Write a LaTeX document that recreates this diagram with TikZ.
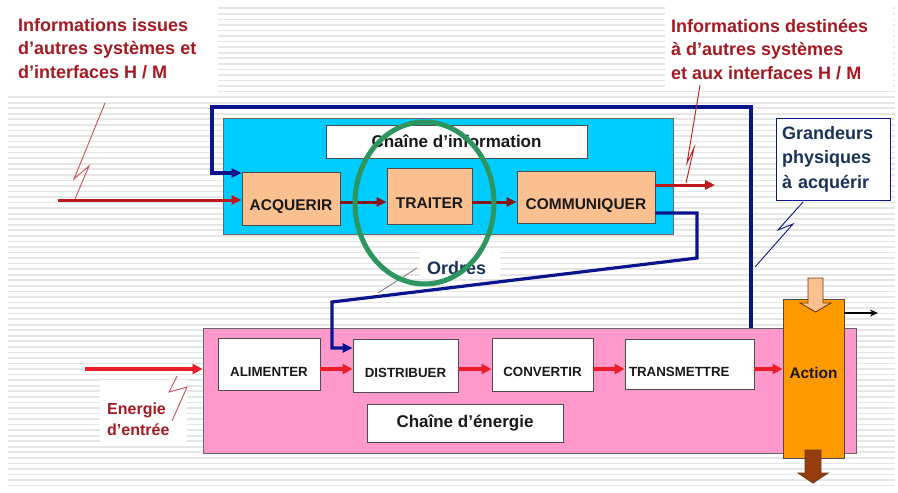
\documentclass[tikz,border=0pt]{standalone}
\usepackage{fontspec}
\setmainfont{Liberation Sans}
\usetikzlibrary{calc,arrows.meta}
\definecolor{cPeach}{RGB}{250,192,143}
\definecolor{cCyan}{RGB}{0,204,255}
\definecolor{cPink}{RGB}{255,153,204}
\definecolor{cOrange}{RGB}{255,153,0}
\definecolor{cNavy}{RGB}{10,20,140}
\definecolor{cNavyText}{RGB}{25,50,90}
\definecolor{cLblRed}{RGB}{165,25,35}
\definecolor{cRedA}{RGB}{190,25,30}
\definecolor{cMaroon}{RGB}{140,20,25}
\definecolor{cRedB}{RGB}{235,30,40}
\definecolor{cLightRed}{RGB}{200,80,90}
\definecolor{cGreen}{RGB}{45,150,95}
\definecolor{cStripe}{RGB}{230,230,230}
\definecolor{cBrown}{RGB}{150,60,15}
\definecolor{cBrownLine}{RGB}{110,60,20}
\begin{document}
\begin{tikzpicture}[x=1pt,y=-1pt,
  pbox/.style={draw=black!70, line width=0.9pt, inner sep=0pt, text height=24pt, text depth=0pt, text=black!90},
  upper/.style={pbox, fill=cPeach, font=\bfseries\fontsize{15.5}{18}\selectfont},
  lower/.style={pbox, fill=white, font=\bfseries\fontsize{13.3}{16}\selectfont},
  wbox/.style={draw=black!70, line width=0.9pt, fill=white, inner sep=0pt, text=black!90, font=\bfseries\fontsize{17}{20}\selectfont},
  lbl/.style={inner sep=0pt, align=left, text=cLblRed, font=\bfseries\fontsize{18}{23.5}\selectfont},
  redA/.style={draw=cRedA, line width=3pt, -{Triangle[length=10pt,width=9pt]}},
  maroonar/.style={draw=cMaroon, line width=3pt, -{Triangle[length=10pt,width=9pt]}},
  redB/.style={draw=cRedB, line width=3.5pt, -{Triangle[length=10pt,width=10pt]}},
  navyar/.style={draw=cNavy, line width=3.2pt, -{Triangle[length=10pt,width=9pt]}},
  bolt/.style={line width=0.9pt}]
\fill[white] (0,0) rectangle (898,493);
\useasboundingbox (0,0) rectangle (898,493);
% stripes
\foreach \k in {0,...,86} {
  \draw[cStripe, line width=1.7pt] (8,{8.3+5.55*\k}) -- (895,{8.3+5.55*\k});
}
% white label areas
\fill[white] (8,0) rectangle (218,92);
\fill[white] (665,0) rectangle (893,90);
\fill[white] (420,252) rectangle (500,278);
\fill[white] (100,380) rectangle (187,443);

% information chain
\node[draw=black!60, line width=0.9pt, fill=cCyan, minimum width=450pt, minimum height=116pt, inner sep=0pt] (info) at (448,176) {};
\node[wbox, minimum width=261pt, minimum height=33pt] (ti) at (456.5,141.5) {Chaîne d’information};
\node[upper, minimum width=98pt, minimum height=53pt] (acq) at (291,198.5) {ACQUERIR};
\node[upper, minimum width=85pt, minimum height=56pt] (tra) at (429.5,196) {TRAITER};
\node[upper, minimum width=138pt, minimum height=52pt] (com) at (586,197) {COMMUNIQUER};

% energy chain
\node[draw=black!60, line width=0.9pt, fill=cPink, minimum width=653pt, minimum height=125pt, inner sep=0pt] (pink) at (529.5,390.5) {};
\node[lower, minimum width=102pt, minimum height=52pt] (ali) at (269,364) {ALIMENTER};
\node[lower, minimum width=105pt, minimum height=53pt] (dis) at (405.5,365.5) {DISTRIBUER};
\node[wbox, minimum width=196pt, minimum height=38pt] (ce) at (465,423) {Chaîne d’énergie};
\node[lower, minimum width=101pt, minimum height=53pt] (con) at (542.5,364.5) {CONVERTIR};
\node[lower, minimum width=129pt, minimum height=50pt, text width=121pt, align=left] (trm) at (689.5,364) {TRANSMETTRE};
\node[draw=black!70, line width=0.9pt, fill=cOrange, minimum width=61pt, minimum height=159pt, inner sep=0pt, text height=11pt, text depth=11pt, text=black!90, font=\bfseries\fontsize{15.4}{18}\selectfont] (act) at (813.5,378.5) {Action};

% grandeurs box
\node[draw=cNavy, line width=0.9pt, fill=white, minimum width=114pt, minimum height=82pt, text width=102pt, align=left, inner sep=0pt, text=cNavyText, font=\bfseries\fontsize{18}{24.5}\selectfont] (gr) at (833,159) {Grandeurs\\physiques\\à acquérir};

% labels
\node[lbl, anchor=north west] (infoIn) at (18,18) {Informations issues\\d’autres systèmes et\\d’interfaces H / M};
\node[lbl, anchor=north west] (infoOut) at (671,19) {Informations destinées\\à d’autres systèmes\\et aux interfaces H / M};
\node[anchor=base west, inner sep=0pt, text=cNavyText, font=\bfseries\fontsize{18}{22}\selectfont] (ord) at (427,274) {Ordres};
\node[anchor=north west, inner sep=0pt, align=left, text=cLblRed, font=\bfseries\fontsize{16}{21}\selectfont] (en) at (107,403) {Energie\\d’entrée};

% information arrows
\coordinate (inA) at (58,200);
\coordinate (rowI) at (0,202);
\coordinate (outI) at (715,185);
\draw[redA] (inA) -- (inA -| acq.west);
\draw[maroonar] (acq.east |- rowI) -- (tra.west |- rowI);
\draw[maroonar] (tra.east |- rowI) -- (com.west |- rowI);
\draw[redA] (com.east |- outI) -- (outI);

% navy feedback loop
\coordinate (fbT) at (751,107);
\coordinate (fbL) at (212,173);
\draw[navyar] (fbT |- pink.north) -- (fbT) -| (fbL) -- (fbL -| acq.west);

% orders
\coordinate (o0) at (697,213);
\coordinate (o1) at (697,258);
\coordinate (o2) at (332,302);
\coordinate (o3) at (332,348);
\draw[navyar] (com.east |- o0) -- (o0) -- (o1) -- (o2) -- (o3) -- (o3 -| dis.west);

% energy arrows
\coordinate (inE) at (85,369);
\coordinate (rowE) at (0,369);
\draw[redB] (inE) -- (inE -| pink.west);
\draw[redB] (ali.east |- rowE) -- (dis.west |- rowE);
\draw[redB] (dis.east |- rowE) -- (con.west |- rowE);
\draw[redB] (con.east |- rowE) -- (trm.west |- rowE);
\draw[redB] (trm.east |- rowE) -- (act.west |- rowE);

% action arrows
\coordinate (outA) at (878,313);
\draw[black, line width=1.3pt, -{Stealth[length=8pt,width=7pt]}] (act.east |- outA) -- (outA);
\filldraw[fill=cPeach, draw=cBrownLine, line width=0.9pt] (808,278) -- (823,278) -- (823,303) -- (831,303) -- (815.5,312) -- (800,303) -- (808,303) -- cycle;
\filldraw[fill=cBrown, draw=cBrownLine, line width=0.9pt] (805,450) -- (821,450) -- (821,473) -- (828,473) -- (813,483) -- (798,473) -- (805,473) -- cycle;

% bolts
\draw[bolt, cLightRed] (105,103) -- (74,179) -- (89,166) -- (75,199);
\draw[bolt, cRedA] (700,85) -- (687,163) -- (694,148) -- (686,183);
\draw[bolt, cNavy] (803,202) -- (778,230) -- (793,224) -- (755,267);
\draw[bolt, gray] (417,268) -- (378,293);
\draw[bolt, cLightRed] (177,376) -- (169,392) -- (187,387) -- (172,421);

% green highlight
\draw[cGreen, line width=5pt] (424.5,203) ellipse [x radius=69.5pt, y radius=81pt];
\end{tikzpicture}
\end{document}
